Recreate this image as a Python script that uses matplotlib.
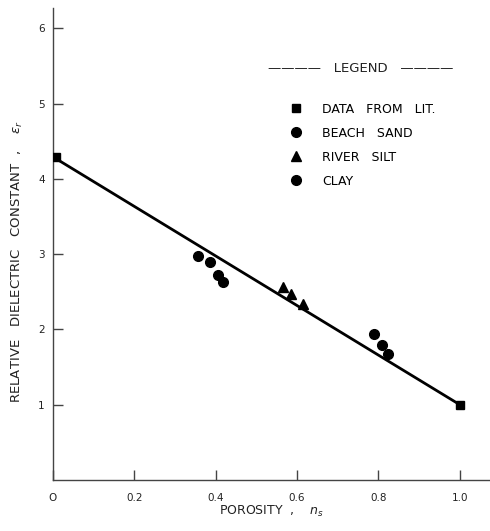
import matplotlib.pyplot as plt

# data
lit_x = [0.007, 1.0]
lit_y = [4.29, 1.0]
sand_x = [0.357, 0.386, 0.406, 0.417]
sand_y = [2.98, 2.89, 2.72, 2.63]
silt_x = [0.566, 0.586, 0.615]
silt_y = [2.56, 2.47, 2.34]
clay_x = [0.789, 0.808, 0.824]
clay_y = [1.94, 1.79, 1.67]
fit_x = [0.007, 1.0]
fit_y = [4.27, 1.0]

xticks = [0, 0.2, 0.4, 0.6, 0.8, 1.0]
xticklabels = ['O', '0.2', '0.4', '0.6', '0.8', '1.0']
yticks = [1, 2, 3, 4, 5, 6]

plt.rcParams['font.family'] = ['DejaVu Sans']
fig = plt.figure(figsize=(4.9, 5.31), dpi=100)
ax = fig.add_axes([0.108, 0.096, 0.892, 0.889])

ax.plot(fit_x, fit_y, color='black', lw=2.0, zorder=2)
ax.plot(lit_x, lit_y, 's', color='black', ms=6, label='DATA   FROM   LIT.', zorder=3)
ax.plot(sand_x, sand_y, 'o', color='black', ms=7, label='BEACH   SAND', zorder=3)
ax.plot(silt_x, silt_y, '^', color='black', ms=6.5, label='RIVER   SILT', zorder=3)
ax.plot(clay_x, clay_y, 'o', color='black', ms=7, label='CLAY', zorder=3)

ax.set_xlim(0, 1.074)
ax.set_ylim(0, 6.27)
ax.spines['top'].set_visible(False)
ax.spines['right'].set_visible(False)
for s in ['left', 'bottom']:
    ax.spines[s].set_color('#444444')
    ax.spines[s].set_linewidth(1.0)

ax.set_xticks(xticks)
ax.set_xticklabels(xticklabels)
ax.set_yticks(yticks)
ax.tick_params(direction='in', length=7, width=1, color='#444444',
               labelsize=7.5, labelcolor='#222222')
ax.tick_params(axis='x', pad=9)
ax.tick_params(axis='y', pad=6)

ax.set_xlabel('POROSITY  ,    $n_s$', fontsize=9, color='#222222')
ax.xaxis.set_label_coords(0.5, -0.05)
ax.set_ylabel('RELATIVE   DIELECTRIC   CONSTANT  ,    $\\epsilon_r$', fontsize=9.5,
              color='#222222')
ax.yaxis.set_label_coords(-0.064, 0.462)

leg = ax.legend(loc='upper left', bbox_to_anchor=(0.533, 0.799), frameon=False,
                fontsize=9, handletextpad=1.3, labelspacing=0.88, borderpad=0,
                handlelength=1.6, borderaxespad=0)
# legend heading with rules either side
ax.text(0.705, 0.871, '————   LEGEND   ————', transform=ax.transAxes,
        ha='center', va='center', fontsize=9.5, color='#222222')

fig.savefig('out.png', dpi=100)
